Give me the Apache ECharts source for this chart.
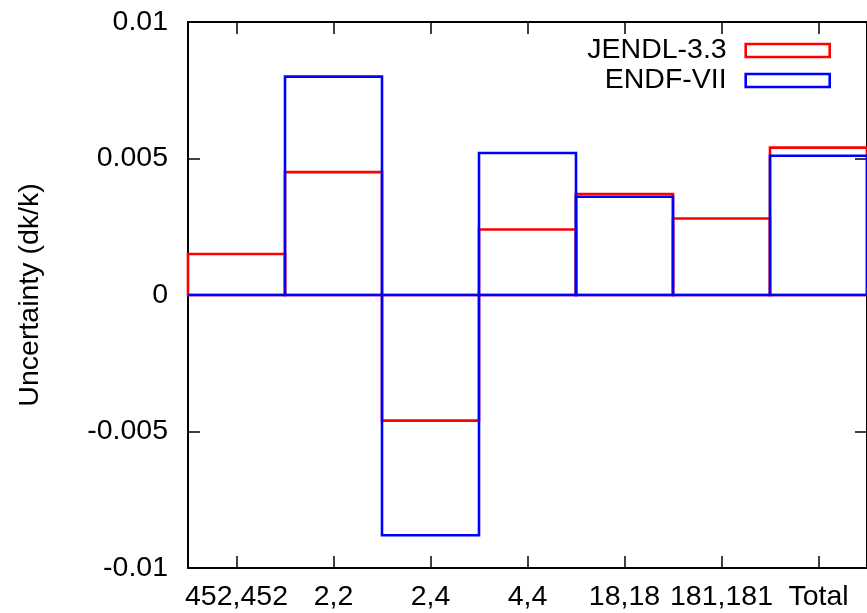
<!DOCTYPE html>
<html>
<head>
<meta charset="utf-8">
<script src="https://cdn.jsdelivr.net/npm/echarts@6/dist/echarts.min.js"></script>
<style>
html,body{margin:0;padding:0;background:#fff;}
#chart{width:867px;height:613px;}
</style>
</head>
<body>
<div id="chart"></div>
<script>
const categories = ['452,452', '2,2', '2,4', '4,4', '18,18', '181,181', 'Total'];
const jendl = [0.0015, 0.0045, -0.0046, 0.0024, 0.0037, 0.0028, 0.0054];
const endf = [0, 0.008, -0.0088, 0.0052, 0.0036, 0, 0.0051];
const seriesNames = ['JENDL-3.3', 'ENDF-VII'];
const seriesColors = ['#ff0000', '#0000ff'];
const yTitle = 'Uncertainty (dk/k)';

const FONT = 'Liberation Sans, Arial, sans-serif';
const FS = 28.5;

function boxes(color) {
  return function (params, api) {
    const x = api.value(0);
    const v = api.value(1);
    const p0 = api.coord([x, 0]);
    const p1 = api.coord([x, v]);
    const w = api.size([1, 0])[0];
    return {
      type: 'rect',
      shape: { x: p0[0] - w / 2, y: Math.min(p0[1], p1[1]), width: w, height: Math.abs(p1[1] - p0[1]) },
      style: { fill: 'none', stroke: color, lineWidth: 2.6 }
    };
  };
}

const chart = echarts.init(document.getElementById('chart'), null, { renderer: 'canvas' });
const yCommon = {
  type: 'value', min: -0.01, max: 0.01, interval: 0.005,
  splitLine: { show: false },
  axisLine: { show: true, onZero: false, lineStyle: { color: '#000', width: 2 } },
  axisTick: { show: true, inside: true, length: 12, lineStyle: { color: '#000', width: 1.5 } }
};
const xCommon = {
  type: 'category', data: categories, boundaryGap: true,
  axisLine: { show: true, onZero: false, lineStyle: { color: '#000', width: 2 } },
  axisTick: { show: true, inside: true, alignWithLabel: true, length: 12, lineStyle: { color: '#000', width: 1.5 } },
  splitLine: { show: false }
};
chart.setOption({
  animation: false,
  backgroundColor: '#fff',
  textStyle: { fontFamily: FONT },
  grid: { left: 188, right: 0, top: 22, bottom: 45, containLabel: false },
  legend: {
    orient: 'vertical', align: 'right', right: 36, top: 36, padding: 0,
    itemWidth: 84, itemHeight: 13, itemGap: 1,
    textStyle: { fontSize: FS, color: '#000', fontFamily: FONT, lineHeight: 28, padding: [0, 14, 0, 0] },
    data: [
      { name: seriesNames[0], icon: 'rect', itemStyle: { color: 'transparent', borderColor: seriesColors[0], borderWidth: 2.6 } },
      { name: seriesNames[1], icon: 'rect', itemStyle: { color: 'transparent', borderColor: seriesColors[1], borderWidth: 2.6 } }
    ]
  },
  xAxis: [
    Object.assign({}, xCommon, {
      position: 'bottom',
      axisLabel: { show: true, interval: 0, fontSize: FS, color: '#000', fontFamily: FONT, margin: 15 }
    }),
    Object.assign({}, xCommon, { position: 'top', axisLabel: { show: false } })
  ],
  yAxis: [
    Object.assign({}, yCommon, {
      position: 'left',
      name: yTitle, nameLocation: 'middle', nameGap: 143, nameRotate: 90,
      nameTextStyle: { fontSize: FS, color: '#000', fontFamily: FONT },
      axisLabel: { show: true, fontSize: FS, color: '#000', fontFamily: FONT, margin: 20 }
    }),
    Object.assign({}, yCommon, { position: 'right', axisLabel: { show: false } })
  ],
  series: [
    {
      name: seriesNames[0], type: 'custom', xAxisIndex: 0, yAxisIndex: 0,
      itemStyle: { color: seriesColors[0] },
      renderItem: boxes(seriesColors[0]),
      data: jendl.map((v, i) => [i, v]),
      z: 3
    },
    {
      name: seriesNames[1], type: 'custom', xAxisIndex: 0, yAxisIndex: 0,
      itemStyle: { color: seriesColors[1] },
      renderItem: boxes(seriesColors[1]),
      data: endf.map((v, i) => [i, v]),
      z: 4
    }
  ]
});
</script>
</body>
</html>
